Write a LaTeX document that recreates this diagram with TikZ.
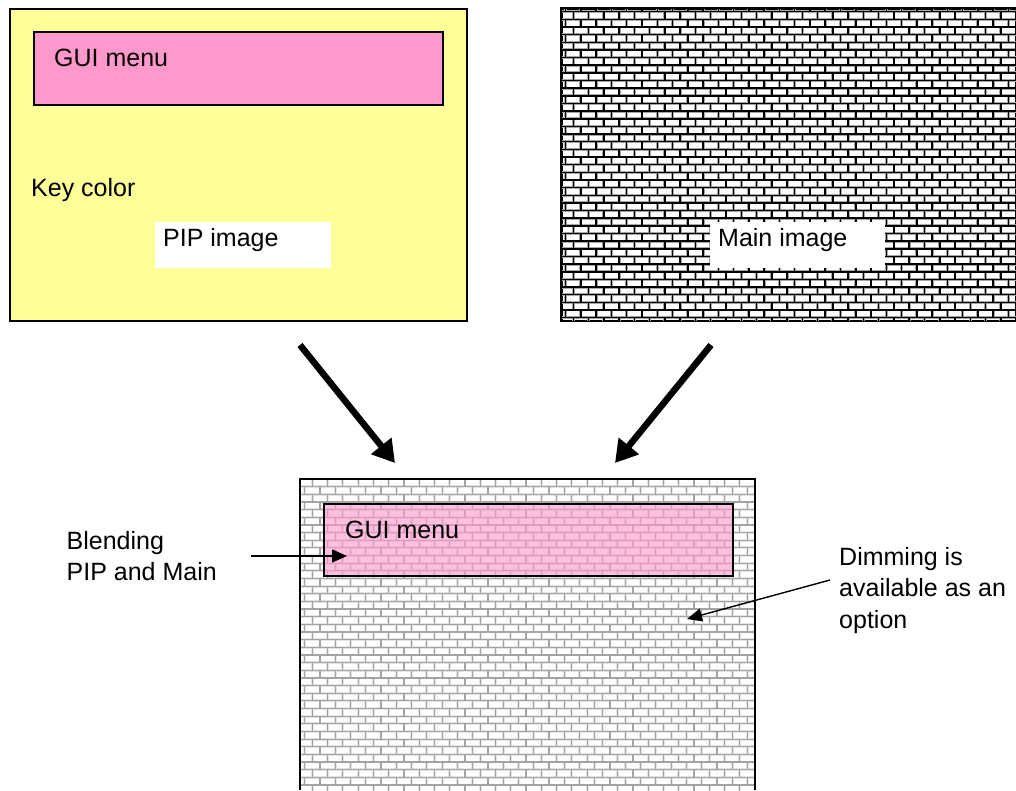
\documentclass[tikz,border=0pt]{standalone}
\usepackage{fontspec}
\setmainfont{Liberation Sans}
\usetikzlibrary{arrows.meta}
\definecolor{keyyellow}{HTML}{FFFF99}
\definecolor{menupink}{HTML}{FF99CC}

% Brick courses: #1 left x, #2 right x, #3 first bed joint y, #4 last course,
% #5 head-joint x of the even courses, #6 line style
\newcommand\brickcourses[6]{%
  \foreach \r in {-1,...,#4} {
    \pgfmathsetmacro\yy{#3+\r*7.65}
    \pgfmathsetmacro\xo{#5-mod(\r+2,2)*7.63}
    \draw[#6] (#1,\yy) -- (#2,\yy)
      \foreach \c in {-1,...,31} { (\xo+\c*15.27,\yy) -- ++(0,7.65) };
  }%
}

\begin{document}
\begin{tikzpicture}[x=1pt,y=-1pt,
  frame/.style={draw=black, line width=1.5pt, inner sep=0pt, anchor=north west},
  lbl/.style={anchor=base west, inner sep=0pt, align=left,
              font=\fontsize{25}{31.5}\selectfont},
  bigarrow/.style={line width=6.5pt, -{Triangle[length=22pt,width=25pt]}},
  callout/.style={line width=1.4pt, -{Triangle[length=15pt,width=13pt]}},
  blackjoint/.style={line width=1.5pt, black},
  blackjointedge/.style={line width=2.9pt, black!35},
  greyjoint/.style={line width=1.2pt, black!36},
  greyjointedge/.style={line width=2.8pt, black!10}]

\path[use as bounding box] (0,0) rectangle (1016,790);

% ---- PIP source: yellow key colour with GUI menu and PIP window ----
\node[frame, fill=keyyellow, minimum width=457pt, minimum height=312pt] (pip) at (9,8) {};
\node[frame, fill=menupink, minimum width=409pt, minimum height=73pt] (menu) at (33,31) {};
\node[lbl] (menutext) at (54,66.5) {GUI menu};
\node[lbl] (keycolor) at (31,196) {Key color};
\node[fill=white, inner sep=0pt, anchor=north west, minimum width=176pt, minimum height=46pt] (pipwin) at (155,222) {};
\node[lbl] (piptext) at (163,246.5) {PIP image};

% ---- Main source: brick picture ----
\node[frame, fill=white, minimum width=454pt, minimum height=312pt] (main) at (561,8) {};
\begin{scope}
  \clip (main.north west) rectangle (main.south east);
  \brickcourses{561}{1016}{4}{41}{580.9}{blackjointedge}
  \brickcourses{561}{1016}{4}{41}{580.9}{blackjoint}
\end{scope}
\draw[line width=1.5pt] (main.north west) rectangle (main.south east);
\node[fill=white, inner sep=0pt, anchor=north west, minimum width=175pt, minimum height=46pt] (mainwin) at (710,222) {};
\node[lbl] (maintext) at (718,246.5) {Main image};

% ---- Arrows into the blended output ----
\coordinate (pipout) at (300,345);
\coordinate (mixinl) at (395,463);
\coordinate (mainout) at (711,345);
\coordinate (mixinr) at (615,463);
\draw[bigarrow] (pipout) -- (mixinl);
\draw[bigarrow] (mainout) -- (mixinr);

% ---- Blended output: dimmed main picture with translucent GUI menu ----
\fill[white] (300,479) rectangle (755,790);
\begin{scope}
  \clip (300,479) rectangle (755,790);
  \brickcourses{300}{756}{479}{41}{312.3}{greyjointedge}
  \brickcourses{300}{756}{479}{41}{312.3}{greyjoint}
\end{scope}
\draw[line width=1.5pt] (300,790) |- (755,479) -- (755,790);
\node[frame, fill=menupink, fill opacity=0.62, minimum width=409pt, minimum height=72pt] (mixmenu) at (323,503) {};
\node[lbl] (mixmenutext) at (345,538) {GUI menu};

% ---- Callouts ----
\node[lbl] (blend) at (66.5,580.5) {Blending\\PIP and Main};
\coordinate (blendfrom) at (251,556);
\coordinate (blendto) at (347,556);
\draw[callout] (blendfrom) -- (blendto);

\node[lbl] (dim) at (839,628) {Dimming is\\available as an\\option};
\coordinate (dimfrom) at (830,580);
\coordinate (dimto) at (687,619);
\draw[callout] (dimfrom) -- (dimto);
\end{tikzpicture}
\end{document}
